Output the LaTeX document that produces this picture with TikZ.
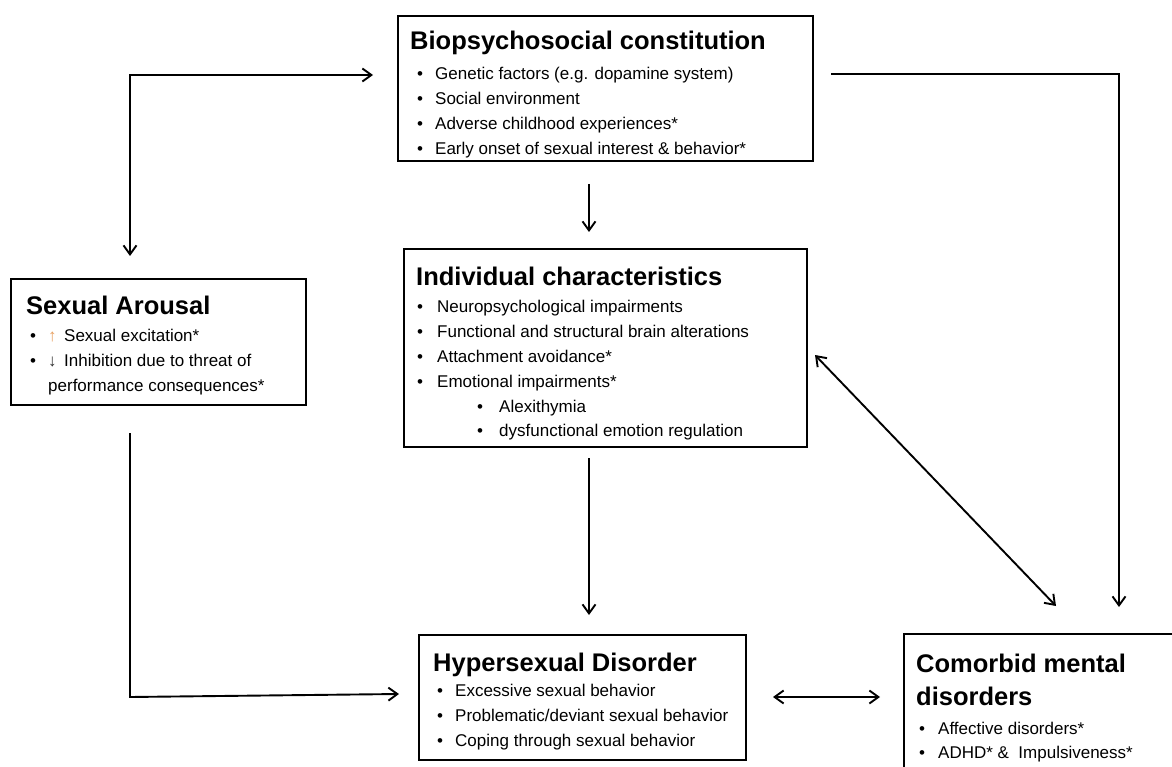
\documentclass[tikz,border=0pt]{standalone}
\usepackage{fontspec}
\setmainfont{Liberation Sans}
\usetikzlibrary{arrows.meta}
\definecolor{upcol}{HTML}{E8A060}
\definecolor{downcol}{HTML}{303030}
\begin{document}
\begin{tikzpicture}[x=1pt,y=-1pt,
 box/.style={draw=black, line width=2pt, inner sep=0pt, anchor=north west},
 ttl/.style={inner sep=0pt, anchor=base west, font=\bfseries\fontsize{25.5}{33}\selectfont},
 lst/.style={inner sep=0pt, anchor=north west, align=left, font=\fontsize{17}{25}\selectfont},
 tip/.tip={Straight Barb[length=9pt,width=13pt]},
 con/.style={line width=1.9pt, -tip},
 dcon/.style={line width=1.9pt, tip-tip}]
\useasboundingbox (0,0) rectangle (1172,767);
\fill[white] (0,0) rectangle (1172,767);
\clip (0,0) rectangle (1172,767);

% Biopsychosocial constitution
\node[box, minimum width=415pt, minimum height=145pt] (bio) at (397,15) {};
\node[ttl] (biot) at (410,50) {Biopsychosocial constitution};
\node[lst] (bioi) at (417,61.5) {\begin{tabular}{@{}p{18pt}@{}l@{}}
\textbullet & Genetic factors (e.g. dopamine system)\\
\textbullet & Social environment\\
\textbullet & Adverse childhood experiences*\\
\textbullet & Early onset of sexual interest \& behavior*
\end{tabular}};

% Individual characteristics
\node[box, minimum width=403pt, minimum height=198pt] (ind) at (403,248) {};
\node[ttl] (indt) at (416,285) {Individual characteristics};
\node[lst] (indi) at (417,294.5) {\begin{tabular}{@{}p{20pt}@{}l@{}}
\textbullet & Neuropsychological impairments\\
\textbullet & Functional and structural brain alterations\\
\textbullet & Attachment avoidance*\\
\textbullet & Emotional impairments*\\
 & \hspace*{40pt}\makebox[22pt][l]{\textbullet}Alexithymia\\[-1pt]
 & \hspace*{40pt}\makebox[22pt][l]{\textbullet}dysfunctional emotion regulation
\end{tabular}};

% Sexual Arousal
\node[box, minimum width=295pt, minimum height=126pt] (sex) at (10,278) {};
\node[ttl] (sext) at (26,314) {Sexual Arousal};
\node[lst] (sexi) at (30,323.5) {\begin{tabular}{@{}p{18pt}@{}l@{}}
\textbullet & {\color{upcol}\makebox[16pt][l]{↑}}Sexual excitation*\\
\textbullet & {\color{downcol}\makebox[16pt][l]{↓}}Inhibition due to threat of\\
 & performance consequences*
\end{tabular}};

% Hypersexual Disorder
\node[box, minimum width=327pt, minimum height=125pt] (hyp) at (418,634) {};
\node[ttl] (hypt) at (433,671) {Hypersexual Disorder};
\node[lst] (hypi) at (437,678.5) {\begin{tabular}{@{}p{18pt}@{}l@{}}
\textbullet & Excessive sexual behavior\\
\textbullet & Problematic/deviant sexual behavior\\
\textbullet & Coping through sexual behavior
\end{tabular}};

% Comorbid mental disorders
\node[box, minimum width=320pt, minimum height=170pt] (com) at (903,633) {};
\node[ttl, anchor=north west, align=left] (comt) at (916,648.9) {\strut Comorbid mental\\disorders};
\node[lst, font=\fontsize{17}{24}\selectfont] (comi) at (919,717.2) {\begin{tabular}{@{}p{19pt}@{}l@{}}
\textbullet & Affective disorders*\\
\textbullet & ADHD* \&\ \ Impulsiveness*
\end{tabular}};

% connectors
\coordinate (a1s) at (130,256);
\coordinate (a1c) at (130,75);
\coordinate (a1e) at (373,75);
\draw[dcon] (a1s) -- (a1c) -- (a1e);

\coordinate (a2s) at (589,184);
\coordinate (a2e) at (589,232);
\draw[con] (a2s) -- (a2e);

\coordinate (a3s) at (831,74);
\coordinate (a3c) at (1119,74);
\coordinate (a3e) at (1119,607);
\draw[con] (a3s) -- (a3c) -- (a3e);

\coordinate (a4s) at (589,458);
\coordinate (a4e) at (589,615);
\draw[con] (a4s) -- (a4e);

\coordinate (a5s) at (130,433);
\coordinate (a5c) at (130,697);
\coordinate (a5e) at (399,694);
\draw[con] (a5s) -- (a5c) -- (a5e);

\coordinate (a6s) at (773,697);
\coordinate (a6e) at (880,697);
\draw[dcon] (a6s) -- (a6e);

\coordinate (a7s) at (815,355);
\coordinate (a7e) at (1056,606);
\draw[dcon] (a7s) -- (a7e);
\end{tikzpicture}
\end{document}
